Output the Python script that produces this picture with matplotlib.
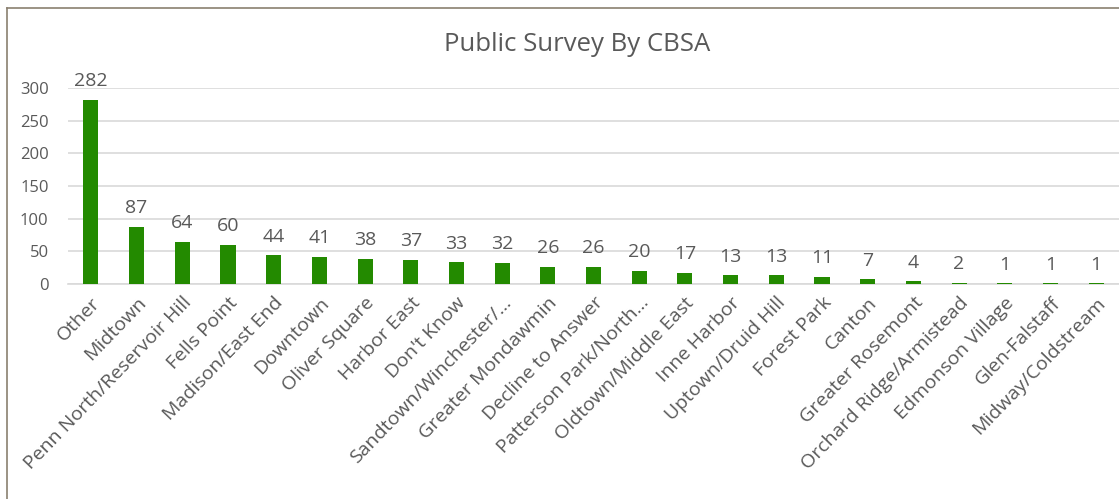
import matplotlib.pyplot as plt
from matplotlib.lines import Line2D

plt.rcParams['font.family'] = ['Open Sans', 'DejaVu Sans']

# Survey responses per CBSA
areas = ["Other", "Midtown", "Penn North/Reservoir Hill", "Fells Point",
         "Madison/East End", "Downtown", "Oliver Square", "Harbor East",
         "Don't Know", "Sandtown/Winchester/...", "Greater Mondawmin",
         "Decline to Answer", "Patterson Park/North...", "Oldtown/Middle East",
         "Inne Harbor", "Uptown/Druid Hill", "Forest Park", "Canton",
         "Greater Rosemont", "Orchard Ridge/Armistead", "Edmonson Village",
         "Glen-Falstaff", "Midway/Coldstream"]
responses = [282, 87, 64, 60, 44, 41, 38, 37, 33, 32, 26, 26, 20, 17,
             13, 13, 11, 7, 4, 2, 1, 1, 1]

text_color = "#595959"

fig = plt.figure(figsize=(11.19, 4.99), dpi=100)
ax = fig.add_axes([0.0608, 0.4309, 0.9392, 0.3927])

x = range(len(areas))
ax.bar(x, responses, width=0.33, color="#238a00", zorder=3)

for xi, v in zip(x, responses):
    ax.annotate(str(v), (xi, v), xytext=(0, 7), textcoords="offset points",
                ha="center", va="bottom", fontsize=14, color=text_color,
                annotation_clip=False)

ax.set_xlim(-0.5, len(areas) - 0.5)
ax.set_ylim(0, 300)
ax.set_yticks(range(0, 301, 50))
ax.yaxis.grid(True, color="#d9d9d9", linewidth=1.2, zorder=0)
ax.set_axisbelow(True)

ax.set_xticks(list(x))
ax.set_xticklabels(areas, rotation=46, ha="right", rotation_mode="anchor",
                   fontsize=14, color=text_color)
ax.tick_params(axis="y", length=0, pad=14, labelsize=12, labelcolor=text_color)
ax.tick_params(axis="x", length=0, pad=7)

for side in ["top", "right", "left"]:
    ax.spines[side].set_visible(False)
ax.spines["bottom"].set_color("#d9d9d9")
ax.spines["bottom"].set_linewidth(1.2)

fig.text(0.516, 0.91, "Public Survey By CBSA", ha="center", va="center",
         fontsize=18.5, color=text_color)

# chart frame along the left and top edges
frame = "#8a8070"
fig.add_artist(Line2D([0.0065, 0.0065], [0, 0.984], color=frame, linewidth=1.2,
                      transform=fig.transFigure))
fig.add_artist(Line2D([0.0065, 1.0], [0.984, 0.984], color=frame, linewidth=1.2,
                      transform=fig.transFigure))

fig.savefig("out.png", dpi=100)
